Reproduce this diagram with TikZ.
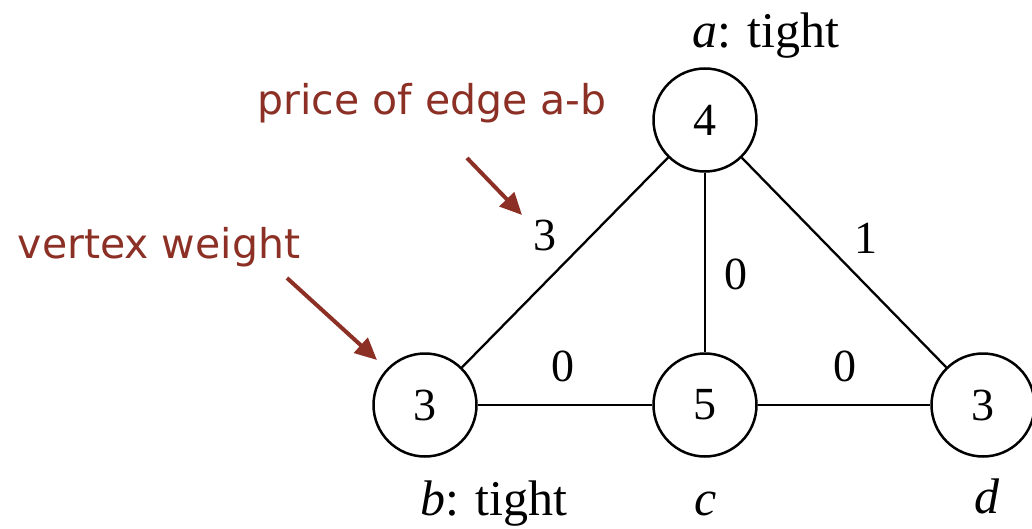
\documentclass[tikz,border=0pt]{standalone}
\usepackage{fontspec}
\setmainfont{Liberation Serif}
\newfontfamily\redfont{DejaVu Sans}
\usetikzlibrary{arrows.meta}
\definecolor{annot}{RGB}{140,48,38}
\begin{document}
\begin{tikzpicture}[x=1pt,y=-1pt,
  vert/.style={circle,draw,line width=2.5pt,minimum size=103pt,inner sep=0pt,font=\fontsize{46}{52}\selectfont},
  edge/.style={line width=2.3pt},
  lbl/.style={font=\fontsize{46}{52}\selectfont,inner sep=0pt},
  vlbl/.style={font=\fontsize{50}{56}\selectfont,inner sep=0pt,anchor=base},
  note/.style={font=\redfont\fontsize{41}{48}\selectfont,text=annot,inner sep=0pt,anchor=base},
  pointer/.style={draw=annot,line width=4pt,-{Triangle[length=22pt,width=20pt]}}]
\useasboundingbox (0,0) rectangle (1032,529);
\node[vert] (a) at (705,120) {4};
\node[vert] (b) at (425,405) {3};
\node[vert] (c) at (705,405) {5};
\node[vert] (d) at (983,405) {3};
\draw[edge] (a) -- (b);
\draw[edge] (a) -- (c);
\draw[edge] (a) -- (d);
\draw[edge] (b) -- (c);
\draw[edge] (c) -- (d);
\node[lbl] (wab) at (545,235) {3};
\node[lbl] (wac) at (736,274) {0};
\node[lbl] (wad) at (866,238) {1};
\node[lbl] (wbc) at (563,366) {0};
\node[lbl] (wcd) at (845,366) {0};
\node[vlbl] (la) at (766,48) {\textit{a}: tight};
\node[vlbl] (lb) at (494,515) {\textit{b}: tight};
\node[vlbl] (lc) at (706,515) {\textit{c}};
\node[vlbl] (ld) at (987,513) {\textit{d}};
\node[note] (n1) at (432,115) {price of edge a-b};
\node[note] (n2) at (159,258) {vertex weight};
\coordinate (p1s) at (467,158);
\coordinate (p1e) at (522,215);
\coordinate (p2s) at (287,278);
\coordinate (p2e) at (377,360);
\draw[pointer] (p1s) -- (p1e);
\draw[pointer] (p2s) -- (p2e);
\end{tikzpicture}
\end{document}
